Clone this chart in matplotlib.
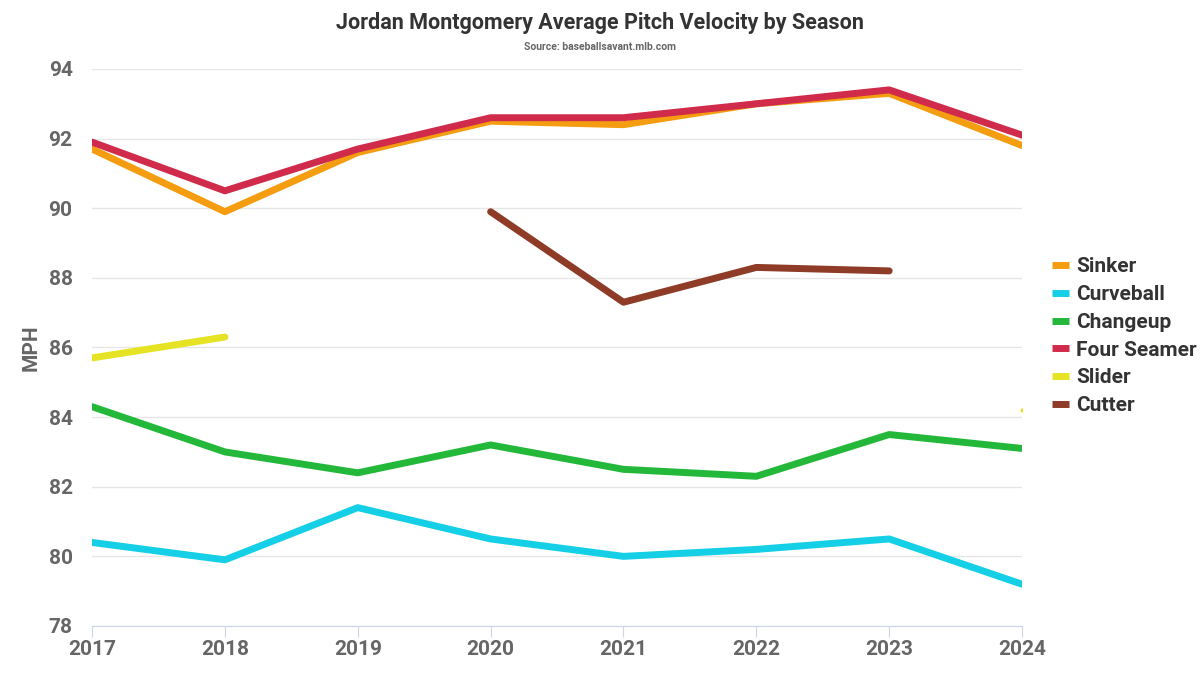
import numpy as np
import matplotlib.pyplot as plt
from matplotlib import font_manager

names = [f.name for f in font_manager.fontManager.ttflist]
fam = 'Liberation Sans Narrow' if 'Liberation Sans Narrow' in names else 'Roboto'
plt.rcParams['font.family'] = [fam, 'DejaVu Sans']

years = [2017, 2018, 2019, 2020, 2021, 2022, 2023, 2024]
sinker = [91.7, 89.9, 91.6, 92.5, 92.4, 93.0, 93.3, 91.8]
curveball = [80.4, 79.9, 81.4, 80.5, 80.0, 80.2, 80.5, 79.2]
changeup = [84.3, 83.0, 82.4, 83.2, 82.5, 82.3, 83.5, 83.1]
four_seamer = [91.9, 90.5, 91.7, 92.6, 92.6, 93.0, 93.4, 92.1]
slider = [85.7, 86.3, None, None, None, None, None, 84.2]
cutter = [None, None, None, 89.9, 87.3, 88.3, 88.2, None]

series = [
    ("Sinker", sinker, "#f59d10"),
    ("Curveball", curveball, "#14cfe6"),
    ("Changeup", changeup, "#24b83a"),
    ("Four Seamer", four_seamer, "#d02b4b"),
    ("Slider", slider, "#e6e324"),
    ("Cutter", cutter, "#8e3b27"),
]

fig = plt.figure(figsize=(12, 6.75), dpi=100)
ax = fig.add_axes([0.0767, 0.0726, 0.775, 0.8252])

for name, vals, col in series:
    v = np.array([np.nan if x is None else x for x in vals], dtype=float)
    ax.plot(years, v, color=col, lw=5, solid_capstyle='round', label=name)
    # isolated single points
    for i in range(len(v)):
        if not np.isnan(v[i]):
            left = i > 0 and not np.isnan(v[i-1])
            right = i < len(v)-1 and not np.isnan(v[i+1])
            if not left and not right:
                ax.plot(years[i], v[i], 'o', color=col, ms=2)

ax.set_xlim(2017, 2024)
ax.set_ylim(78, 94)
ax.set_yticks(range(78, 95, 2))
ax.set_xticks(years)
ax.grid(axis='y', color='#e6e6e6', lw=1)
ax.set_axisbelow(True)
for s in ['top', 'right', 'left']:
    ax.spines[s].set_visible(False)
ax.spines['bottom'].set_color('#ccd6eb')
ax.tick_params(axis='x', colors='#ccd6eb', length=8, labelcolor='#666666', labelsize=15, pad=2)
ax.tick_params(axis='y', length=0, labelcolor='#666666', labelsize=15, pad=14)
for lab in ax.get_xticklabels() + ax.get_yticklabels():
    lab.set_fontweight('bold')
ax.set_ylabel('MPH', fontsize=15, fontweight='bold', color='#666666', labelpad=6)

fig.text(0.5, 0.966, 'Jordan Montgomery Average Pitch Velocity by Season', ha='center', va='center',
         fontsize=15.5, fontweight='bold', color='#333333')
fig.text(0.5, 0.931, 'Source: baseballsavant.mlb.com', ha='center', va='center',
         fontsize=7.5, fontweight='bold', color='#666666')

leg = ax.legend(loc='center left', bbox_to_anchor=(1.012, 0.52), frameon=False,
                handlelength=0.8, handletextpad=0.35, labelspacing=0.42,
                prop={'size': 15, 'weight': 'bold'})
for t in leg.get_texts():
    t.set_color('#333333')
for h in leg.get_lines():
    h.set_linewidth(5)
    h.set_solid_capstyle('butt')

fig.savefig('out.png', dpi=100)
